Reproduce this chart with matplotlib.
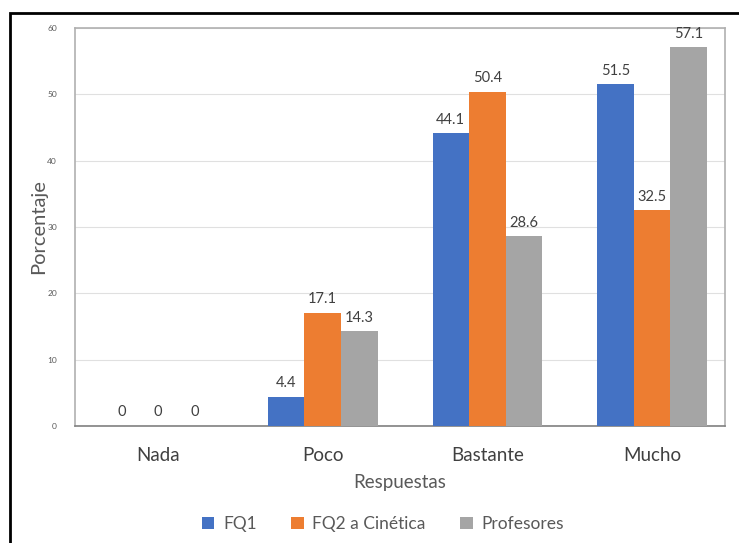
import numpy as np
import matplotlib.pyplot as plt
from matplotlib.patches import Rectangle

plt.rcParams['font.family'] = ['Lato', 'DejaVu Sans']

# Survey answers (percent) per group
categorias = ['Nada', 'Poco', 'Bastante', 'Mucho']
fq1 = [0, 4.4, 44.1, 51.5]
fq2 = [0, 17.1, 50.4, 32.5]
profesores = [0, 14.3, 28.6, 57.1]
series = ['FQ1', 'FQ2 a Cinética', 'Profesores']
colores = ['#4472C4', '#ED7D31', '#A5A5A5']

fig = plt.figure(figsize=(7.39, 5.43), dpi=100)
W, H = 739, 543
ax = fig.add_axes([75 / W, 1 - 426 / H, (725 - 75) / W, (426 - 28) / H])

x = np.arange(len(categorias))
w = 0.222
for i, (vals, name, c) in enumerate(zip([fq1, fq2, profesores], series, colores)):
    pos = x + (i - 1) * w
    ax.bar(pos, vals, width=w, color=c, label=name, zorder=3)
    for p, v in zip(pos, vals):
        txt = f'{v:g}' if v != 0 else '0'
        ax.text(p, v + 1.0, txt, ha='center', va='bottom', fontsize=10.5, color='#404040')

ax.set_xlim(-0.504, 3.443)
ax.set_ylim(0, 60)
ax.set_yticks(range(0, 61, 10))
ax.tick_params(axis='y', labelsize=6, colors='#595959', length=0, pad=13)
ax.tick_params(axis='x', length=0, labelsize=13.5, labelcolor='#404040', pad=15)
ax.set_xticks(x)
ax.set_xticklabels(categorias)
ax.yaxis.grid(True, color='#E0E0E0', linewidth=0.8, zorder=0)
for s in ax.spines.values():
    s.set_color('#B0B0B0')
    s.set_linewidth(1.2)
ax.spines['bottom'].set_color('#808080')

ax.set_ylabel('Porcentaje', fontsize=14.5, color='#595959')
ax.yaxis.set_label_coords((47 - 75) / 650, 0.5)
ax.set_xlabel('Respuestas', fontsize=13.5, color='#595959', labelpad=7)

fig.legend(loc='center', bbox_to_anchor=(383 / W, 1 - 524 / H), ncol=3, frameon=False,
           fontsize=12.5, handlelength=0.7, handleheight=0.7, columnspacing=2.0,
           handletextpad=0.5, labelcolor='#595959')

# outer frame
fig.patches.append(Rectangle((10 / W, -0.05), 1.1, 1 - 13 / H + 0.05, transform=fig.transFigure,
                             fill=False, edgecolor='black', linewidth=2))

fig.savefig('out.png', dpi=100)
